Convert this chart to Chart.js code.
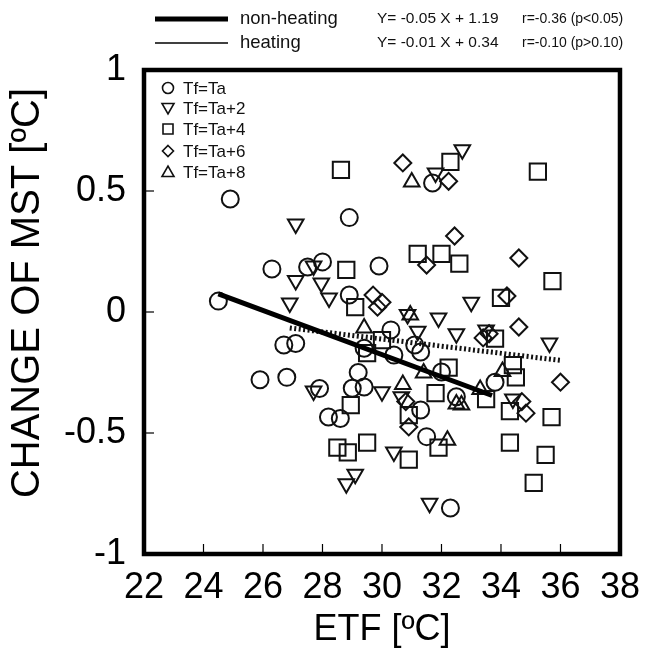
<!DOCTYPE html>
<html>
<head>
<meta charset="utf-8">
<script src="https://cdn.jsdelivr.net/npm/chart.js@4"></script>
<style>
  html, body { margin: 0; padding: 0; background: #fff; }
</style>
</head>
<body>
<canvas id="chart" width="652" height="652"></canvas>
<script>
// Tf=Ta (circles)
const taX = [24.5, 24.9, 25.9, 26.3, 26.7, 26.8, 27.1, 27.5, 27.9, 28.0, 28.2, 28.6, 28.9, 28.9, 29.0, 29.2, 29.4, 29.4, 29.9, 30.3, 30.4, 31.1, 31.3, 31.3, 31.5, 31.7, 32.0, 32.3, 32.5, 33.8];
const taY = [0.045, 0.467, -0.28, 0.178, -0.136, -0.27, -0.13, 0.186, -0.316, 0.207, -0.434, -0.44, 0.39, 0.07, -0.315, -0.25, -0.15, -0.31, 0.19, -0.074, -0.178, -0.136, -0.165, -0.405, -0.515, 0.533, -0.248, -0.81, -0.35, -0.29];
// Tf=Ta+2 (down triangles)
const ta2X = [26.9, 27.1, 27.1, 27.7, 27.7, 27.96, 28.22, 28.8, 29.1, 30.0, 30.4, 30.65, 30.86, 31.2, 31.6, 31.8, 31.9, 32.5, 32.7, 33.0, 33.5, 34.4, 35.63];
const ta2Y = [0.037, 0.364, 0.13, 0.19, -0.326, 0.12, 0.058, -0.71, -0.67, -0.33, -0.578, -0.35, -0.01, -0.08, -0.79, 0.574, -0.025, -0.09, 0.67, 0.04, -0.074, -0.36, -0.128];
// Tf=Ta+4 (squares)
const ta4X = [28.5, 28.62, 28.8, 28.85, 28.95, 29.1, 29.5, 29.5, 30.0, 30.9, 30.9, 31.2, 31.8, 31.9, 32.0, 32.24, 32.3, 32.6, 33.5, 33.8, 34.0, 34.3, 34.3, 34.4, 34.5, 35.1, 35.24, 35.5, 35.7, 35.73];
const ta4Y = [-0.56, 0.587, 0.174, -0.58, -0.385, 0.02, -0.17, -0.54, -0.116, -0.426, -0.61, 0.24, -0.335, -0.56, 0.24, -0.23, 0.62, 0.2, -0.36, -0.11, 0.058, -0.41, -0.54, -0.22, -0.27, -0.706, 0.58, -0.59, -0.434, 0.128];
// Tf=Ta+6 (diamonds)
const ta6X = [29.7, 29.85, 30.0, 30.7, 30.8, 30.9, 31.5, 32.24, 32.44, 33.4, 33.6, 34.2, 34.6, 34.6, 34.7, 34.84, 36.0];
const ta6Y = [0.07, 0.02, 0.04, 0.616, -0.37, -0.475, 0.194, 0.54, 0.314, -0.107, -0.09, 0.066, 0.223, -0.062, -0.37, -0.418, -0.29];
// Tf=Ta+8 (up triangles)
const ta8X = [29.4, 30.7, 30.95, 31.0, 31.4, 32.2, 32.5, 32.67, 33.3, 34.05];
const ta8Y = [-0.066, -0.3, -0.012, 0.537, -0.252, -0.53, -0.38, -0.384, -0.32, -0.246];

// regression lines (end points)
const nonHeatX = [24.5, 33.7];
const nonHeatY = [0.075, -0.345];
const heatX = [26.9, 36.0];
const heatY = [-0.066, -0.2];

const seriesLabels = ["Tf=Ta", "Tf=Ta+2", "Tf=Ta+4", "Tf=Ta+6", "Tf=Ta+8"];
const lineLabels = ["non-heating", "heating"];
const lineEquations = ["Y= -0.05 X + 1.19", "Y= -0.01 X + 0.34"];
const lineStats = ["r=-0.36 (p<0.05)", "r=-0.10 (p>0.10)"];
const yTitle = "CHANGE OF MST [ºC]";
const xTitle = "ETF [ºC]";

const FONT = "'Liberation Sans', Arial, Helvetica, sans-serif";

function pts(xs, ys) {
  return xs.map((x, i) => ({ x: x, y: ys[i] }));
}

function markerSet(label, xs, ys, style, radius, rotation) {
  return {
    label: label,
    data: pts(xs, ys),
    pointStyle: style,
    pointRadius: radius,
    pointRotation: rotation || 0,
    pointBorderWidth: 2,
    pointBorderColor: "#111",
    pointBackgroundColor: "rgba(0,0,0,0)",
    order: 2
  };
}

function drawMarker(ctx, kind, x, y, r) {
  ctx.beginPath();
  if (kind === "circle") {
    ctx.arc(x, y, r, 0, Math.PI * 2);
  } else if (kind === "down") {
    ctx.moveTo(x - r, y - r * 0.75);
    ctx.lineTo(x + r, y - r * 0.75);
    ctx.lineTo(x, y + r);
    ctx.closePath();
  } else if (kind === "up") {
    ctx.moveTo(x - r, y + r * 0.75);
    ctx.lineTo(x + r, y + r * 0.75);
    ctx.lineTo(x, y - r);
    ctx.closePath();
  } else if (kind === "rect") {
    ctx.rect(x - r, y - r, 2 * r, 2 * r);
  } else if (kind === "diamond") {
    ctx.moveTo(x, y - r);
    ctx.lineTo(x + r, y);
    ctx.lineTo(x, y + r);
    ctx.lineTo(x - r, y);
    ctx.closePath();
  }
  ctx.stroke();
}

const framePlugin = {
  id: "frame",
  afterDraw(chart) {
    const ctx = chart.ctx;
    const a = chart.chartArea;
    const xs = chart.scales.x;
    const ys = chart.scales.y;
    ctx.save();
    // inward tick marks
    ctx.strokeStyle = "#000";
    ctx.lineWidth = 1.2;
    xs.ticks.forEach(t => {
      const px = xs.getPixelForValue(t.value);
      ctx.beginPath();
      ctx.moveTo(px, a.bottom);
      ctx.lineTo(px, a.bottom - 10);
      ctx.stroke();
    });
    ys.ticks.forEach(t => {
      const py = ys.getPixelForValue(t.value);
      ctx.beginPath();
      ctx.moveTo(a.left, py);
      ctx.lineTo(a.left + 10, py);
      ctx.stroke();
    });
    // thick frame
    ctx.lineWidth = 4.5;
    ctx.strokeRect(a.left, a.top, a.right - a.left, a.bottom - a.top);

    // y axis title, sits a little above the plot centre
    ctx.fillStyle = "#000";
    ctx.save();
    ctx.translate(28, 293);
    ctx.rotate(-Math.PI / 2);
    ctx.font = "40px " + FONT;
    ctx.textAlign = "center";
    ctx.textBaseline = "middle";
    ctx.fillText(yTitle, 0, 0);
    ctx.restore();

    // marker legend inside plot
    const kinds = ["circle", "down", "rect", "diamond", "up"];
    const sizes = [5.5, 6, 5, 5.5, 6];
    const rowsY = [88, 108, 129, 151, 172];
    ctx.lineWidth = 1.6;
    ctx.strokeStyle = "#111";
    ctx.fillStyle = "#111";
    ctx.font = "17px " + FONT;
    ctx.textBaseline = "middle";
    ctx.textAlign = "left";
    seriesLabels.forEach((lab, i) => {
      drawMarker(ctx, kinds[i], 168, rowsY[i], sizes[i]);
      ctx.fillText(lab, 183, rowsY[i] + 1);
    });

    // top legend for regression lines
    const topY = [19, 43];
    const widths = [5, 1.5];
    lineLabels.forEach((lab, i) => {
      ctx.lineWidth = widths[i];
      ctx.strokeStyle = "#000";
      ctx.beginPath();
      ctx.moveTo(155, topY[i]);
      ctx.lineTo(228, topY[i]);
      ctx.stroke();
      ctx.font = "18.5px " + FONT;
      ctx.fillText(lab, 240, topY[i]);
      ctx.font = "15.5px " + FONT;
      ctx.fillText(lineEquations[i], 377, topY[i]);
      ctx.font = "14px " + FONT;
      ctx.fillText(lineStats[i], 522, topY[i]);
    });
    ctx.restore();
  }
};

new Chart(document.getElementById("chart"), {
  type: "scatter",
  data: {
    datasets: [
      {
        type: "scatter",
        label: lineLabels[0],
        data: pts(nonHeatX, nonHeatY),
        showLine: true,
        borderColor: "#000",
        borderWidth: 5,
        pointRadius: 0,
        order: 0
      },
      {
        type: "scatter",
        label: lineLabels[1],
        data: pts(heatX, heatY),
        showLine: true,
        borderColor: "#111",
        borderWidth: 5,
        borderDash: [2, 2.5],
        pointRadius: 0,
        order: 1
      },
      markerSet(seriesLabels[0], taX, taY, "circle", 8.5),
      markerSet(seriesLabels[1], ta2X, ta2Y, "triangle", 9, 180),
      markerSet(seriesLabels[2], ta4X, ta4Y, "rect", 11.5),
      markerSet(seriesLabels[3], ta6X, ta6Y, "rectRot", 8.5),
      markerSet(seriesLabels[4], ta8X, ta8Y, "triangle", 9)
    ]
  },
  options: {
    responsive: false,
    animation: false,
    layout: { padding: { top: 70, right: 22, left: 0, bottom: 0 } },
    plugins: {
      legend: { display: false },
      tooltip: { enabled: false }
    },
    scales: {
      x: {
        type: "linear",
        min: 22,
        max: 38,
        grid: { display: false, drawTicks: false },
        border: { display: false },
        ticks: {
          stepSize: 2,
          padding: 12,
          color: "#000",
          font: { family: FONT, size: 36 }
        },
        title: {
          display: true,
          text: xTitle,
          color: "#000",
          padding: { top: 0, bottom: 0 },
          font: { family: FONT, size: 36 }
        },
        afterFit(scale) { scale.height = 98; }
      },
      y: {
        type: "linear",
        min: -1,
        max: 1,
        grid: { display: false, drawTicks: false },
        border: { display: false },
        ticks: {
          stepSize: 0.5,
          padding: 18,
          color: "#000",
          font: { family: FONT, size: 36 },
          callback: v => String(v)
        },
        title: { display: false },
        afterFit(scale) { scale.width = 144; }
      }
    }
  },
  plugins: [framePlugin]
});
</script>
</body>
</html>
